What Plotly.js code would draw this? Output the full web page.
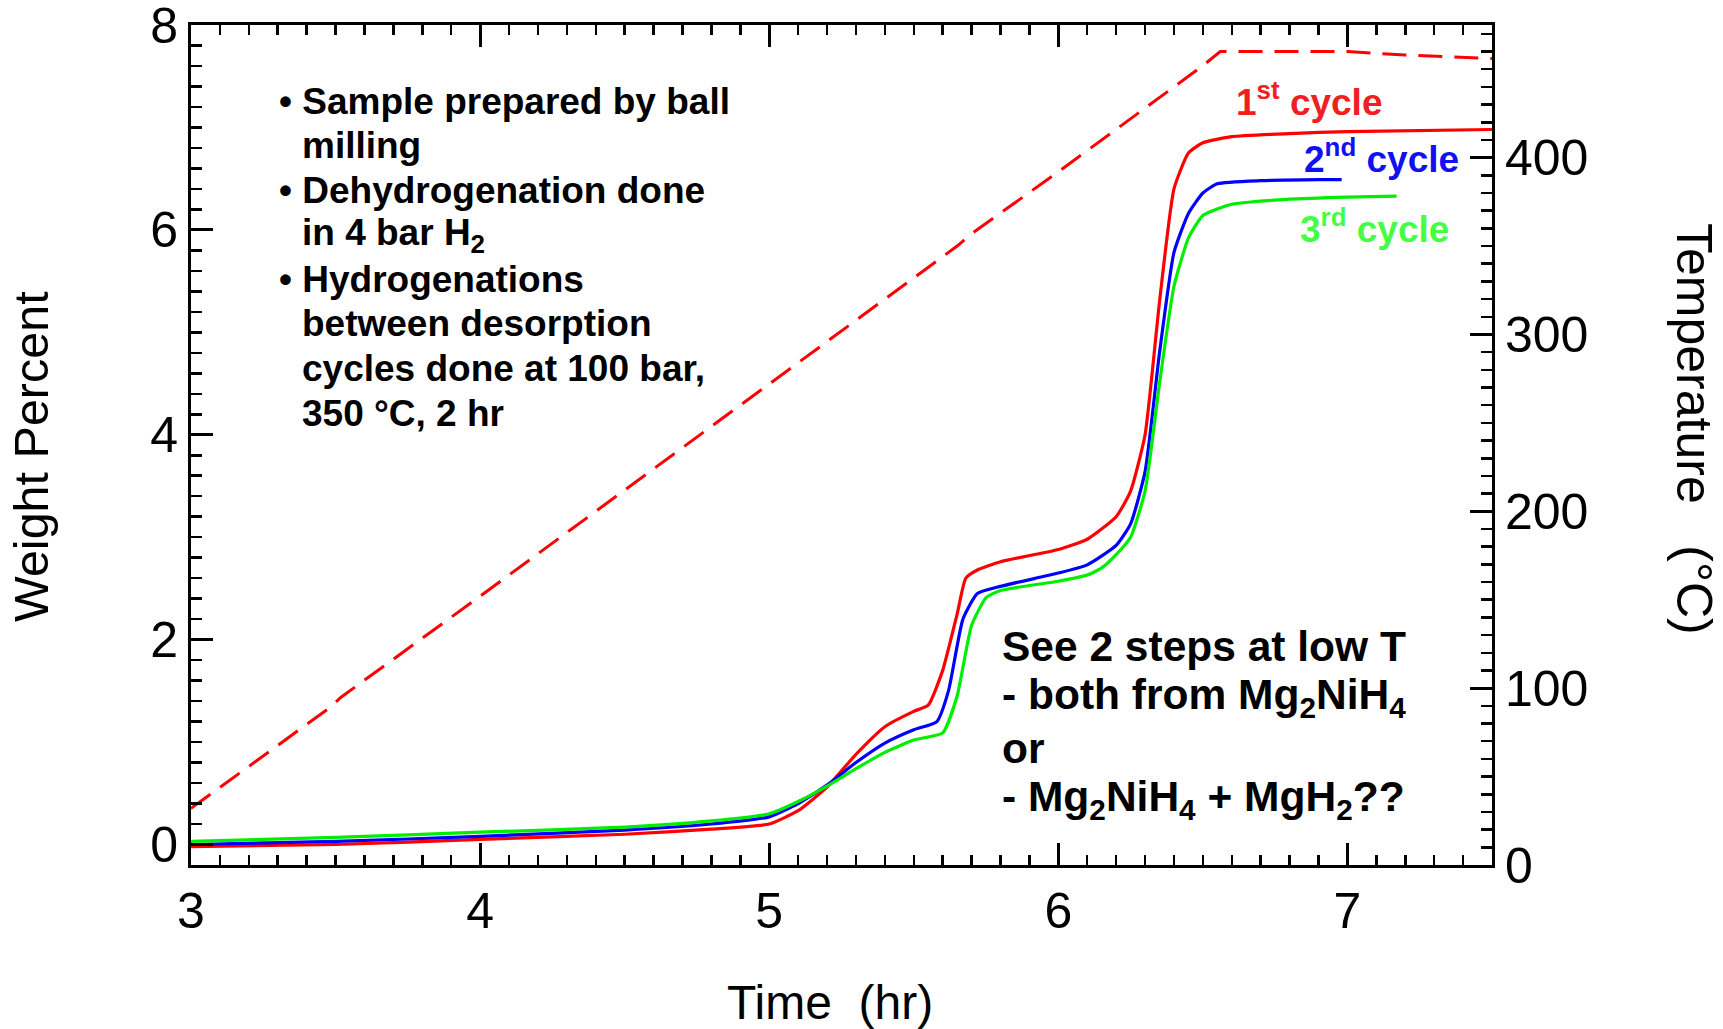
<!DOCTYPE html>
<html>
<head>
<meta charset="utf-8">
<script src="https://cdn.plot.ly/plotly-3.0.1.min.js"></script>
<style>html,body{margin:0;padding:0;background:#fff;}#chart{width:1723px;height:1029px;}</style>
</head>
<body>
<div id="chart"></div>
<script>
// ---- Data ----
const cycle1Time = [3.0, 3.5, 4.0, 4.5, 4.8, 5.0, 5.1, 5.2, 5.3, 5.4, 5.5, 5.55, 5.6, 5.65, 5.68, 5.72, 5.8, 6.0, 6.1, 6.2, 6.25, 6.3, 6.35, 6.4, 6.45, 6.5, 6.6, 6.8, 7.0, 7.5];
const cycle1Wt   = [-0.02, 0.0, 0.05, 0.1, 0.15, 0.2, 0.33, 0.56, 0.88, 1.15, 1.3, 1.36, 1.7, 2.25, 2.6, 2.68, 2.76, 2.88, 2.98, 3.2, 3.45, 4.0, 5.3, 6.4, 6.75, 6.85, 6.91, 6.94, 6.96, 6.98];

const cycle2Time = [3.0, 3.5, 4.0, 4.5, 4.8, 5.0, 5.1, 5.2, 5.3, 5.4, 5.5, 5.58, 5.62, 5.67, 5.72, 5.8, 6.0, 6.1, 6.2, 6.25, 6.3, 6.35, 6.4, 6.45, 6.5, 6.55, 6.7, 6.9, 6.98];
const cycle2Wt   = [0.0, 0.03, 0.08, 0.14, 0.2, 0.27, 0.4, 0.58, 0.8, 0.99, 1.12, 1.2, 1.5, 2.2, 2.45, 2.52, 2.65, 2.73, 2.92, 3.13, 3.64, 4.8, 5.78, 6.16, 6.36, 6.45, 6.48, 6.49, 6.49];

const cycle3Time = [3.0, 3.5, 4.0, 4.5, 4.8, 5.0, 5.1, 5.2, 5.3, 5.4, 5.5, 5.6, 5.65, 5.7, 5.75, 5.8, 6.0, 6.1, 6.15, 6.2, 6.25, 6.3, 6.35, 6.4, 6.45, 6.5, 6.6, 6.8, 7.0, 7.17];
const cycle3Wt   = [0.03, 0.07, 0.12, 0.17, 0.23, 0.3, 0.42, 0.57, 0.74, 0.9, 1.02, 1.09, 1.45, 2.14, 2.41, 2.48, 2.57, 2.63, 2.7, 2.83, 3.0, 3.45, 4.5, 5.45, 5.92, 6.14, 6.25, 6.3, 6.32, 6.33];

const tempTime = [3.0, 3.48, 3.52, 4.0, 4.5, 5.0, 5.5, 5.65, 5.7, 6.0, 6.5, 6.56, 7.0, 7.2, 7.5];
const tempC    = [32, 89, 95, 152, 212, 272, 332, 350, 357, 392, 452, 460, 460, 458, 456];

const cycleLabels = ["1<sup>st</sup> cycle", "2<sup>nd</sup> cycle", "3<sup>rd</sup> cycle"];
const noteLines = ["• Sample prepared by ball", "milling", "• Dehydrogenation done", "in 4 bar H<sub>2</sub>", "• Hydrogenations", "between desorption", "cycles done at 100 bar,", "350 °C, 2 hr"];
const stepLines = ["See 2 steps at low T", "- both from Mg<sub>2</sub>NiH<sub>4</sub>", "or", "- Mg<sub>2</sub>NiH<sub>4</sub> + MgH<sub>2</sub>??"];
const xTitle = "Time\u00a0\u00a0(hr)";
const yTitle = "Weight Percent";
const y2Title = "Temperature\u00a0\u00a0 (°C)";

const xTickVals = [3, 4, 5, 6, 7];
const yTickVals = [0, 2, 4, 6, 8];
const tTickVals = [0, 100, 200, 300, 400];

// ---- Layout geometry ----
const W = 1723, H = 1029;
const L = 191, R = 1492, T = 25, B = 865;
const px2x = p => (p - L) / (R - L);
const px2y = p => (B - p) / (B - T);
const FONT = "Liberation Sans, Arial, Helvetica, sans-serif";
const RED = "#ff0000", BLUE = "#0000ff", GREEN = "#00ee00";

const traces = [
  {x: tempTime, y: tempC, yaxis: "y2", mode: "lines", line: {color: RED, width: 3, dash: "24px,12px"}, hoverinfo: "skip"},
  {x: cycle1Time, y: cycle1Wt, mode: "lines", line: {color: RED, width: 3.2, shape: "spline", smoothing: 0.5}},
  {x: cycle2Time, y: cycle2Wt, mode: "lines", line: {color: BLUE, width: 3.2, shape: "spline", smoothing: 0.5}},
  {x: cycle3Time, y: cycle3Wt, mode: "lines", line: {color: GREEN, width: 3.2, shape: "spline", smoothing: 0.5}}
];

const axisCommon = {showgrid: false, zeroline: false, ticks: "inside", tickcolor: "#000", tickwidth: 3,
  linecolor: "#000", linewidth: 3, ticklabeloverflow: "allow", tickfont: {family: FONT, size: 50, color: "#000"}};

const annotations = [];
noteLines.forEach((s, i) => {
  const bullet = s.startsWith("•");
  annotations.push({xref: "paper", yref: "paper", x: px2x(bullet ? 277 : 300), y: px2y(101 + i * 44.6),
    xanchor: "left", yanchor: "middle", showarrow: false, text: "<b>" + s + "</b>",
    font: {family: FONT, size: 37, color: "#000"}});
});
stepLines.forEach((s, i) => {
  annotations.push({xref: "paper", yref: "paper", x: px2x(1000), y: px2y(646 + i * 51.3),
    xanchor: "left", yanchor: "middle", showarrow: false, text: "<b>" + s + "</b>",
    font: {family: FONT, size: 42.5, color: "#000"}});
});
const labelColors = ["#f02020", "#1010f0", "#44ff44"];
const labelPos = [[1234, 99], [1302, 156], [1298, 226]];
cycleLabels.forEach((s, i) => {
  annotations.push({xref: "paper", yref: "paper", x: px2x(labelPos[i][0]), y: px2y(labelPos[i][1]),
    xanchor: "left", yanchor: "middle", showarrow: false, text: "<b>" + s + "</b>",
    font: {family: FONT, size: 37, color: labelColors[i]}});
});
// axis titles
annotations.push({xref: "paper", yref: "paper", x: px2x(830), y: px2y(1002), xanchor: "center", yanchor: "middle",
  showarrow: false, text: xTitle, font: {family: FONT, size: 48, color: "#000"}});
annotations.push({xref: "paper", yref: "paper", x: px2x(31), y: px2y(457), xanchor: "center", yanchor: "middle",
  showarrow: false, textangle: -90, text: yTitle, font: {family: FONT, size: 48.5, color: "#000"}});
annotations.push({xref: "paper", yref: "paper", x: px2x(1694), y: px2y(429), xanchor: "center", yanchor: "middle",
  showarrow: false, textangle: 90, text: y2Title, font: {family: FONT, size: 50, color: "#000"}});

const layout = {
  width: W, height: H,
  paper_bgcolor: "#fff", plot_bgcolor: "#fff",
  margin: {l: L, r: W - R, t: T, b: H - B, pad: 0},
  showlegend: false,
  font: {family: FONT, color: "#000"},
  xaxis: Object.assign({}, axisCommon, {
    range: [3, 7.5], tickmode: "array", tickvals: xTickVals, ticklen: 22, mirror: "ticks", showline: true,
    ticklabelstandoff: 0,
    minor: {tick0: 3, dtick: 0.1, ticklen: 10, tickwidth: 2.5, tickcolor: "#000", ticks: "inside"}
  }),
  xaxis3: Object.assign({}, axisCommon, {
    range: [3, 7.5], overlaying: "x", anchor: "y", side: "bottom", tick0: 3, dtick: 0.5, ticklen: 16,
    showticklabels: false, mirror: "ticks", showline: false
  }),
  yaxis: Object.assign({}, axisCommon, {
    range: [-0.2, 8.0001], tickmode: "array", tickvals: yTickVals, ticklen: 22, showline: true,
    ticklabelstandoff: 0,
    minor: {tick0: 0, dtick: 0.2, ticklen: 11, tickwidth: 2.5, tickcolor: "#000", ticks: "inside"}
  }),
  yaxis3: Object.assign({}, axisCommon, {
    range: [-0.2, 8.0001], overlaying: "y", anchor: "x", side: "left", tick0: 0, dtick: 1, ticklen: 17,
    showticklabels: false, showline: false
  }),
  yaxis2: Object.assign({}, axisCommon, {
    range: [0, 475], overlaying: "y", side: "right", anchor: "x", tickmode: "array", tickvals: tTickVals,
    ticklen: 22, showline: true, ticklabelstandoff: 0,
    minor: {tick0: 0, dtick: 10, ticklen: 11, tickwidth: 2.5, tickcolor: "#000", ticks: "inside"}
  }),
  yaxis4: Object.assign({}, axisCommon, {
    range: [0, 475], overlaying: "y", side: "right", anchor: "x", tick0: 0, dtick: 50, ticklen: 17,
    showticklabels: false, showline: false
  }),
  annotations: annotations
};

Plotly.newPlot("chart", traces, layout, {staticPlot: true, displayModeBar: false});
</script>
</body>
</html>
